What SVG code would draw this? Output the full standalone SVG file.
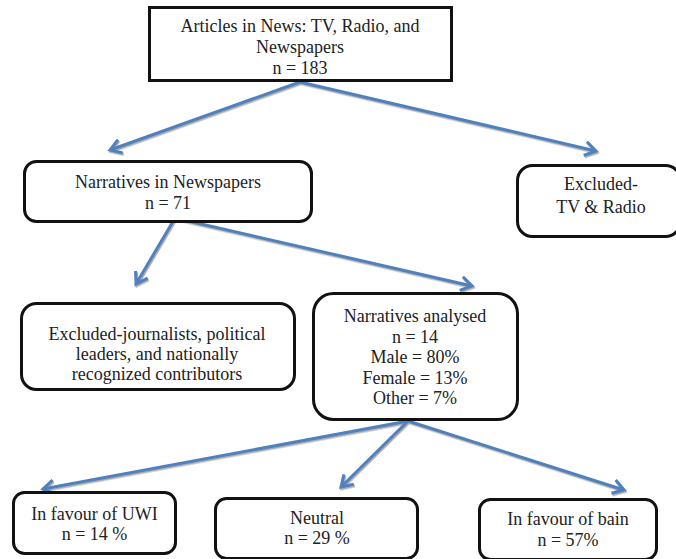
<svg xmlns="http://www.w3.org/2000/svg" width="676" height="559" viewBox="0 0 676 559">
<style>
.box{fill:#fff;stroke:#111;stroke-width:3}
.t{fill:#222;text-anchor:middle}
.c{fill:none;stroke:#4F81BD;stroke-width:3;marker-end:url(#ah)}
</style>
<defs>
<marker id="ah" markerUnits="userSpaceOnUse" markerWidth="20" markerHeight="20" refX="0" refY="0" viewBox="-14 -10 20 20" orient="auto">
<path d="M-11,-7 L0,0 L-11,7" fill="none" stroke="#4F81BD" stroke-width="3" stroke-linejoin="miter"/>
</marker>
<filter id="sh" x="-10%" y="-10%" width="120%" height="130%">
<feDropShadow dx="1" dy="1.5" stdDeviation="0.7" flood-color="#888" flood-opacity="0.7"/>
</filter>
</defs>
<g id="connectors" filter="url(#sh)">
<line class="c" x1="300" y1="82" x2="110" y2="150"/>
<line class="c" x1="300" y1="82" x2="596" y2="151"/>
<line class="c" x1="175" y1="218" x2="136" y2="284"/>
<line class="c" x1="175" y1="218" x2="472" y2="286"/>
<line class="c" x1="408" y1="421" x2="43" y2="489"/>
<line class="c" x1="408" y1="421" x2="341" y2="487"/>
<line class="c" x1="408" y1="421" x2="624" y2="490"/>
</g>
<g id="nodes" font-family="Liberation Serif, Times New Roman, serif" font-size="18">
<g id="n1">
<rect class="box" x="149.5" y="7.5" width="302" height="73"/>
<text class="t" x="300" y="32">Articles in News: TV, Radio, and</text>
<text class="t" x="300" y="53">Newspapers</text>
<text class="t" x="300" y="74">n = 183</text>
</g>
<g id="n2">
<rect class="box" x="24.5" y="161.5" width="287" height="60" rx="12"/>
<text class="t" x="168" y="188">Narratives in Newspapers</text>
<text class="t" x="168" y="209">n = 71</text>
</g>
<g id="n3">
<rect class="box" x="517.5" y="165.5" width="163" height="71" rx="15"/>
<text class="t" x="601" y="190">Excluded-</text>
<text class="t" x="601" y="213">TV &amp; Radio</text>
</g>
<g id="n4">
<rect class="box" x="21.5" y="303.5" width="273" height="86" rx="15"/>
<text class="t" x="157" y="340">Excluded-journalists, political</text>
<text class="t" x="157" y="360">leaders, and nationally</text>
<text class="t" x="157" y="380">recognized contributors</text>
</g>
<g id="n5">
<rect class="box" x="313.5" y="293.5" width="204" height="126" rx="20"/>
<text class="t" x="415" y="322">Narratives analysed</text>
<text class="t" x="415" y="343">n = 14</text>
<text class="t" x="415" y="363">Male = 80%</text>
<text class="t" x="415" y="384">Female = 13%</text>
<text class="t" x="415" y="404">Other = 7%</text>
</g>
<g id="n6">
<rect class="box" x="13.5" y="492.5" width="162" height="61" rx="11"/>
<text class="t" x="94.5" y="520">In favour of UWI</text>
<text class="t" x="94.5" y="540">n = 14 %</text>
</g>
<g id="n7">
<rect class="box" x="215.5" y="498.5" width="202" height="60" rx="11"/>
<text class="t" x="317" y="524">Neutral</text>
<text class="t" x="317" y="544">n = 29 %</text>
</g>
<g id="n8">
<rect class="box" x="479.5" y="499.5" width="177" height="60" rx="11"/>
<text class="t" x="568" y="525">In favour of bain</text>
<text class="t" x="568" y="546">n = 57%</text>
</g>
</g>
</svg>
